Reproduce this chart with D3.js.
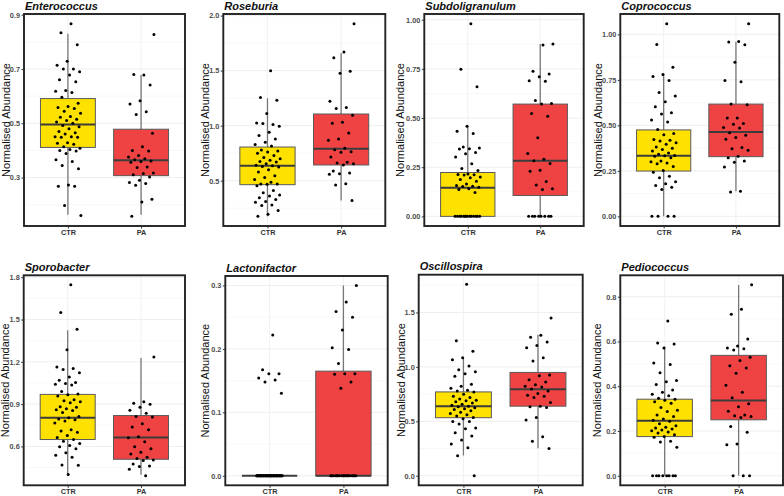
<!DOCTYPE html>
<html>
<head>
<meta charset="utf-8">
<script src="https://cdn.jsdelivr.net/npm/d3@7"></script>
<style>
  body { margin: 0; background: #fff; }
  svg { display: block; font-family: "Liberation Sans", Arial, sans-serif; }
</style>
</head>
<body>
<div id="chart"></div>
<script>
// groups and taxa, in panel order
var groups = ['CTR', 'PA'];
var taxa = ['Enterococcus', 'Roseburia', 'Subdoligranulum', 'Coprococcus',
  'Sporobacter', 'Lactonifactor', 'Oscillospira', 'Pediococcus'];

// y tick values for every panel and how many decimals they print with
var tickValues = [
  [0.3, 0.5, 0.7, 0.9],
  [0.5, 1.0, 1.5, 2.0],
  [0, 0.25, 0.5, 0.75, 1.0],
  [0, 0.25, 0.5, 0.75, 1.0],
  [0.6, 0.9, 1.2, 1.5, 1.8],
  [0, 0.1, 0.2, 0.3],
  [0, 0.5, 1.0, 1.5],
  [0, 0.2, 0.4, 0.6, 0.8]
];
var tickDigits = [1, 1, 2, 2, 1, 1, 1, 1];

// box stats: [lower whisker, q1, median, q3, upper whisker]
var boxCTR = [
  [0.163, 0.411, 0.495, 0.591, 0.83],
  [0.176, 0.464, 0.635, 0.806, 1.249],
  [0, 0, 0.145, 0.223, 0.457],
  [0, 0.249, 0.333, 0.475, 0.783],
  [0.399, 0.649, 0.803, 0.969, 1.424],
  [0, 0, 0, 0, 0],
  [0.186, 0.533, 0.639, 0.77, 1.077],
  [0, 0.175, 0.246, 0.342, 0.577]
];
var boxPA = [
  [0.163, 0.307, 0.364, 0.478, 0.678],
  [0.321, 0.643, 0.791, 1.106, 1.661],
  [0, 0.106, 0.283, 0.571, 0.877],
  [0.138, 0.328, 0.464, 0.617, 0.96],
  [0.399, 0.509, 0.663, 0.819, 1.228],
  [0, 0, 0, 0.165, 0.3],
  [0.253, 0.639, 0.794, 0.949, 1.296],
  [0, 0.25, 0.336, 0.538, 0.852]
];

// individual samples (normalised abundance)
var pointsCTR = [
  [0.867, 0.833, 0.789, 0.728, 0.714, 0.70, 0.70, 0.69, 0.678, 0.66, 0.653, 0.621, 0.618, 0.613,
   0.596, 0.574, 0.562, 0.558, 0.554, 0.544, 0.537, 0.525, 0.522, 0.515, 0.51, 0.505, 0.50, 0.492,
   0.487, 0.48, 0.47, 0.465, 0.46, 0.45, 0.45, 0.448, 0.448, 0.428, 0.426, 0.423, 0.413, 0.408,
   0.403, 0.40, 0.398, 0.389, 0.366, 0.359, 0.344, 0.332, 0.273, 0.268, 0.268, 0.197, 0.16],
  [1.50, 1.255, 1.23, 1.11, 1.024, 1.01, 1.02, 0.994, 0.94, 0.91, 0.88, 0.85, 0.83, 0.815, 0.78,
   0.77, 0.76, 0.75, 0.73, 0.71, 0.70, 0.685, 0.675, 0.67, 0.655, 0.64, 0.636, 0.63, 0.625, 0.60,
   0.58, 0.545, 0.53, 0.51, 0.485, 0.47, 0.47, 0.467, 0.455, 0.41, 0.39, 0.37, 0.36, 0.345, 0.33,
   0.31, 0.305, 0.28, 0.275, 0.23, 0.195, 0.176],
  [0.98, 0.748, 0.659, 0.458, 0.433, 0.421, 0.353, 0.348, 0.344, 0.342, 0.325, 0.319, 0.302, 0.267,
   0.244, 0.233, 0.216, 0.213, 0.211, 0.21, 0.2, 0.196, 0.187, 0.179, 0.165, 0.157, 0.153, 0.152,
   0.148, 0.141, 0.136, 0.121, 0, 0, 0, 0, 0, 0, 0, 0, 0, 0, 0, 0, 0, 0],
  [1.059, 0.945, 0.82, 0.779, 0.768, 0.746, 0.681, 0.661, 0.63, 0.602, 0.569, 0.562, 0.529, 0.519,
   0.477, 0.455, 0.449, 0.422, 0.418, 0.414, 0.405, 0.396, 0.381, 0.374, 0.368, 0.359, 0.348, 0.341,
   0.335, 0.333, 0.33, 0.322, 0.304, 0.3, 0.293, 0.289, 0.274, 0.252, 0.243, 0.221, 0.212, 0.19,
   0.179, 0.169, 0.16, 0.147, 0, 0, 0, 0],
  [1.746, 1.55, 1.431, 1.286, 1.163, 1.153, 1.146, 1.123, 1.092, 1.069, 1.053, 1.046, 1.041, 1.036,
   0.99, 0.971, 0.966, 0.957, 0.931, 0.924, 0.917, 0.91, 0.882, 0.878, 0.868, 0.861, 0.854, 0.84,
   0.812, 0.803, 0.794, 0.789, 0.78, 0.766, 0.719, 0.71, 0.70, 0.677, 0.663, 0.649, 0.637, 0.621,
   0.607, 0.598, 0.584, 0.555, 0.537, 0.523, 0.469, 0.467, 0.401],
  [0.222, 0.167, 0.161, 0.161, 0.154, 0.151, 0.148, 0.13,
   0, 0, 0, 0, 0, 0, 0, 0, 0, 0, 0, 0, 0, 0, 0, 0, 0, 0, 0, 0, 0, 0, 0,
   0, 0, 0, 0, 0, 0, 0, 0, 0, 0, 0, 0, 0, 0, 0, 0, 0, 0, 0, 0, 0, 0, 0],
  [1.759, 1.241, 1.144, 1.083, 1.065, 1.007, 0.974, 0.955, 0.937, 0.913, 0.84, 0.822, 0.803, 0.785,
   0.779, 0.77, 0.749, 0.73, 0.718, 0.706, 0.694, 0.688, 0.679, 0.669, 0.657, 0.648, 0.639, 0.633,
   0.624, 0.615, 0.609, 0.596, 0.584, 0.572, 0.56, 0.548, 0.535, 0.523, 0.499, 0.499, 0.475, 0.438,
   0.432, 0.396, 0.365, 0.329, 0.292, 0.256, 0.183, 0],
  [0.692, 0.593, 0.589, 0.571, 0.504, 0.497, 0.46, 0.426, 0.42, 0.408, 0.383, 0.373, 0.364, 0.358,
   0.346, 0.342, 0.337, 0.331, 0.324, 0.305, 0.293, 0.287, 0.272, 0.265, 0.254, 0.248, 0.243, 0.232,
   0.223, 0.217, 0.213, 0.209, 0.204, 0.201, 0.195, 0.191, 0.183, 0.175, 0.172, 0.154, 0.151, 0.127,
   0, 0, 0, 0, 0, 0, 0, 0]
];
var pointsPA = [
  [0.827, 0.678, 0.68, 0.641, 0.583, 0.571, 0.542, 0.532, 0.463, 0.413, 0.40, 0.398, 0.381, 0.376,
   0.369, 0.366, 0.361, 0.359, 0.356, 0.339, 0.337, 0.317, 0.315, 0.31, 0.302, 0.29, 0.282, 0.278,
   0.272, 0.22, 0.21, 0.157],
  [1.927, 1.67, 1.618, 1.494, 1.476, 1.221, 1.164, 1.155, 1.094, 1.03, 1.021, 0.933, 0.879, 0.867,
   0.794, 0.782, 0.764, 0.758, 0.715, 0.667, 0.661, 0.655, 0.643, 0.588, 0.57, 0.564, 0.558, 0.473,
   0.461, 0.321],
  [0.877, 0.872, 0.738, 0.724, 0.71, 0.69, 0.687, 0.589, 0.574, 0.571, 0.523, 0.509, 0.40, 0.32,
   0.291, 0.283, 0.269, 0.235, 0.23, 0.177, 0.16, 0.14, 0.136, 0, 0, 0, 0, 0, 0, 0, 0],
  [1.059, 0.961, 0.958, 0.943, 0.847, 0.746, 0.74, 0.617, 0.613, 0.54, 0.54, 0.51, 0.506, 0.488,
   0.486, 0.46, 0.446, 0.433, 0.424, 0.378, 0.372, 0.363, 0.33, 0.322, 0.304, 0.298, 0.271, 0.138,
   0.134],
  [1.235, 0.917, 0.906, 0.9, 0.878, 0.857, 0.836, 0.812, 0.808, 0.761, 0.738, 0.719, 0.668, 0.661,
   0.633, 0.598, 0.584, 0.558, 0.546, 0.523, 0.514, 0.504, 0.5, 0.476, 0.462, 0.457, 0.439, 0.392],
  [0.30, 0.274, 0.259, 0.25, 0.23, 0.202, 0.199, 0.177, 0.161, 0.161, 0.16, 0.148, 0.138,
   0, 0, 0, 0, 0, 0, 0, 0, 0, 0, 0, 0, 0, 0, 0, 0, 0, 0],
  [1.448, 1.29, 1.272, 1.229, 1.196, 1.175, 1.083, 1.053, 0.925, 0.919, 0.882, 0.861, 0.837, 0.822,
   0.816, 0.797, 0.779, 0.755, 0.74, 0.73, 0.718, 0.672, 0.639, 0.633, 0.627, 0.535, 0.511, 0.359,
   0.316, 0.25],
  [0.853, 0.744, 0.722, 0.611, 0.58, 0.571, 0.568, 0.562, 0.53, 0.515, 0.491, 0.482, 0.458, 0.404,
   0.373, 0.349, 0.322, 0.308, 0.288, 0.272, 0.268, 0.265, 0.26, 0.22, 0.194, 0.142, 0.138, 0, 0, 0]
];

/*** layout: plot area of each panel and x of the y-axis title */
var layout = [
  { l: 24, t: 14, r: 185, b: 226, lab: 10 },
  { l: 223.3, t: 14, r: 385.3, b: 226, lab: 209 },
  { l: 424.3, t: 14, r: 583.7, b: 226, lab: 404 },
  { l: 620.3, t: 14, r: 779.3, b: 226, lab: 601.5 },
  { l: 23.7, t: 275.3, r: 185, b: 485.3, lab: 9 },
  { l: 225.3, t: 276, r: 387.7, b: 485.3, lab: 209 },
  { l: 418.7, t: 274.7, r: 582.7, b: 485.3, lab: 405 },
  { l: 620.3, t: 275.3, r: 783, b: 485.3, lab: 601 }
];
var fills = { CTR: '#ffe100', PA: '#ef4343' };

var svg = d3.select('#chart').append('svg')
  .attr('width', 784)
  .attr('height', 496);

taxa.forEach(function(name, k) {
  var L = layout[k];
  var pts = { CTR: pointsCTR[k], PA: pointsPA[k] };
  var box = { CTR: boxCTR[k], PA: boxPA[k] };
  var all = pts.CTR.concat(pts.PA, box.CTR, box.PA);
  var lo = d3.min(all), hi = d3.max(all), pad = (hi - lo) * 0.05;

  var y = d3.scaleLinear().domain([lo - pad, hi + pad]).range([L.b, L.t]);
  var x = d3.scalePoint().domain(groups).range([L.l, L.r]).padding(0.6);
  var step = x.step();
  var g = svg.append('g');

  // grid (minor halfway between the breaks)
  var ticks = tickValues[k];
  var half = (ticks[1] - ticks[0]) / 2;
  var minor = [];
  for (var v = ticks[0] - half; v <= hi + pad; v += half * 2) {
    if (v >= lo - pad) minor.push(v);
  }
  g.selectAll('.minor').data(minor).enter().append('line')
    .attr('x1', L.l).attr('x2', L.r)
    .attr('y1', d => y(d)).attr('y2', d => y(d))
    .style('stroke', '#f3f3f3').style('stroke-width', 0.6);
  g.selectAll('.major').data(ticks).enter().append('line')
    .attr('x1', L.l).attr('x2', L.r)
    .attr('y1', d => y(d)).attr('y2', d => y(d))
    .style('stroke', '#ececec').style('stroke-width', 0.9);
  g.selectAll('.vmajor').data(groups).enter().append('line')
    .attr('x1', d => x(d)).attr('x2', d => x(d))
    .attr('y1', L.t).attr('y2', L.b)
    .style('stroke', '#efefef').style('stroke-width', 0.9);

  // boxplots
  var bw = step * 0.75;
  groups.forEach(function(grp) {
    var s = box[grp], cx = x(grp);
    g.append('line')
      .attr('x1', cx).attr('x2', cx)
      .attr('y1', y(s[0])).attr('y2', y(s[4]))
      .style('stroke', '#777').style('stroke-width', 1.3);
    g.append('rect')
      .attr('x', cx - bw / 2).attr('width', bw)
      .attr('y', y(s[3])).attr('height', y(s[1]) - y(s[3]))
      .style('fill', fills[grp])
      .style('stroke', '#5a5a5a').style('stroke-width', 1);
    g.append('line')
      .attr('x1', cx - bw / 2).attr('x2', cx + bw / 2)
      .attr('y1', y(s[2])).attr('y2', y(s[2]))
      .style('stroke', '#3c3c3c').style('stroke-width', 2);
  });

  // jittered samples
  groups.forEach(function(grp, gi) {
    g.selectAll('.pt' + grp).data(pts[grp]).enter().append('circle')
      .attr('cx', function(d, i) {
        var u = ((i + 1) * 0.6180339887 + gi * 0.37) % 1;
        return x(grp) + (u - 0.5) * 2 * 0.18 * step;
      })
      .attr('cy', d => y(d))
      .attr('r', 1.5)
      .style('fill', '#000');
  });

  // panel border
  g.append('rect')
    .attr('x', L.l).attr('y', L.t)
    .attr('width', L.r - L.l).attr('height', L.b - L.t)
    .style('fill', 'none')
    .style('stroke', '#222').style('stroke-width', 1.9);

  // axes
  var fmt = d3.format('.' + tickDigits[k] + 'f');
  var ya = g.append('g')
    .attr('transform', 'translate(' + L.l + ',0)')
    .call(d3.axisLeft(y).tickValues(ticks).tickFormat(fmt).tickSize(2.5).tickPadding(1.5));
  ya.select('.domain').remove();
  ya.selectAll('line').style('stroke', '#333');
  ya.selectAll('text')
    .style('font-size', '7.3px').style('font-weight', 'bold')
    .style('fill', '#4d4d4d');

  var xa = g.append('g')
    .attr('transform', 'translate(0,' + L.b + ')')
    .call(d3.axisBottom(x).tickSize(2.5).tickPadding(1.2));
  xa.select('.domain').remove();
  xa.selectAll('line').style('stroke', '#333');
  xa.selectAll('text')
    .style('font-size', '7.3px').style('font-weight', 'bold')
    .style('fill', '#333');

  // titles
  g.append('text')
    .attr('x', L.l + 1).attr('y', L.t - 4.4)
    .style('font-size', '11px').style('font-weight', 'bold').style('font-style', 'italic')
    .style('fill', '#111')
    .text(name);
  g.append('text')
    .attr('transform', 'translate(' + L.lab + ',' + (L.t + L.b) / 2 + ') rotate(-90)')
    .attr('text-anchor', 'middle')
    .style('font-size', '11px')
    .style('fill', '#111')
    .text('Normalised Abundance');
});
</script>
</body>
</html>
